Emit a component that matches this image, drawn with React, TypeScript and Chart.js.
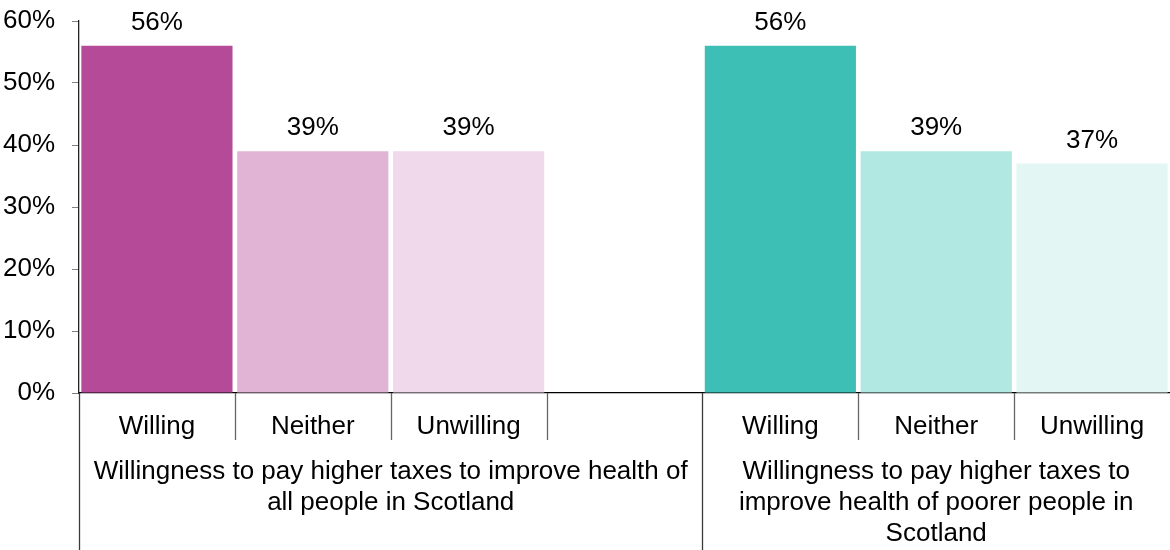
import React, { useEffect, useRef } from "react";
import { Chart, registerables } from "chart.js";

Chart.register(...registerables);

const categories = ["Willing", "Neither", "Unwilling", "", "Willing", "Neither", "Unwilling"];
const values = [56, 39, 39, null, 56, 39, 37];
const barColors = ["#B44A98", "#E1B3D5", "#F0D9EB", "rgba(0,0,0,0)", "#3DBFB5", "#B1E8E2", "#E3F6F3"];
const groupLabels = [
  { from: 0, to: 3, lines: ["Willingness to pay higher taxes to improve health of", "all people in Scotland"] },
  { from: 4, to: 6, lines: ["Willingness to pay higher taxes to", "improve health of poorer people in", "Scotland"] },
];
const yTicks = [0, 10, 20, 30, 40, 50, 60];

const FONT = "'Liberation Sans', Arial, sans-serif";
const FS = 26;

export default function App() {
  const ref = useRef<HTMLCanvasElement | null>(null);

  useEffect(() => {
    document.body.style.margin = "0";
    const canvas = ref.current;
    if (!canvas) return;

    const overlay = {
      id: "overlay",
      afterDraw(chart: any) {
        const ctx = chart.ctx;
        const x = chart.scales.x;
        const area = chart.chartArea;
        const n = categories.length;
        const slot = x.getPixelForValue(1) - x.getPixelForValue(0);
        const boundary = (i: number) => x.getPixelForValue(i) - slot / 2;
        ctx.save();
        ctx.fillStyle = "#000";
        ctx.font = `${FS}px ${FONT}`;
        ctx.textAlign = "center";
        ctx.textBaseline = "alphabetic";
        const meta = chart.getDatasetMeta(0);
        meta.data.forEach((el: any, i: number) => {
          const v = values[i];
          if (v === null || v === undefined) return;
          ctx.fillText(`${v}%`, el.x, el.y - 16);
        });
        ctx.lineWidth = 1.3;
        for (let i = 0; i < n; i++) {
          const bx = Math.round(boundary(i)) + 0.5;
          const long = i === 0 || i === 4;
          ctx.strokeStyle = long ? "#3a3a3a" : "#666";
          ctx.beginPath();
          ctx.moveTo(bx, area.bottom);
          ctx.lineTo(bx, long ? chart.height : area.bottom + 47);
          ctx.stroke();
        }
        ctx.fillStyle = "#000";
        ctx.font = `${FS}px ${FONT}`;
        ctx.textBaseline = "middle";
        groupLabels.forEach((g) => {
          const left = boundary(g.from);
          const right = g.to + 1 < n ? boundary(g.to + 1) : area.right;
          const cx = (left + right) / 2;
          g.lines.forEach((line, k) => {
            ctx.fillText(line, cx, area.bottom + 79 + k * 31);
          });
        });
        ctx.restore();
      },
    };

    const chart = new Chart(canvas, {
      type: "bar",
      data: {
        labels: categories,
        datasets: [
          {
            data: values as any,
            backgroundColor: barColors,
            borderWidth: 0,
            barPercentage: 0.97,
            categoryPercentage: 1,
          },
        ],
      },
      options: {
        responsive: false,
        animation: false,
        layout: { padding: { top: 21, right: 0, left: 0, bottom: 0 } },
        plugins: { legend: { display: false }, tooltip: { enabled: false } },
        scales: {
          x: {
            afterFit(scale: any) {
              scale.height = 157;
              scale.paddingLeft = 0;
              scale.paddingRight = 0;
            },
            grid: { display: false },
            border: { display: true, color: "#000", width: 1.3 },
            ticks: {
              color: "#000",
              font: { family: FONT, size: FS },
              padding: 10,
              maxRotation: 0,
              autoSkip: false,
            },
          },
          y: {
            min: 0,
            max: 60,
            afterFit(scale: any) {
              scale.width = 79;
              scale.paddingTop = 0;
              scale.paddingBottom = 0;
            },
            afterBuildTicks(scale: any) {
              scale.ticks = yTicks.map((v) => ({ value: v }));
            },
            grid: {
              drawOnChartArea: false,
              drawTicks: true,
              tickLength: 7,
              color: "#808080",
            },
            border: { display: true, color: "#222", width: 1.3 },
            ticks: {
              color: "#000",
              font: { family: FONT, size: FS },
              padding: 17,
              callback: (v: any) => `${v}%`,
            },
          },
        },
      },
      plugins: [overlay],
    });

    return () => chart.destroy();
  }, []);

  return (
    <div style={{ width: 1170, height: 550 }}>
      <canvas ref={ref} width={1170} height={550} style={{ display: "block" }} />
    </div>
  );
}
